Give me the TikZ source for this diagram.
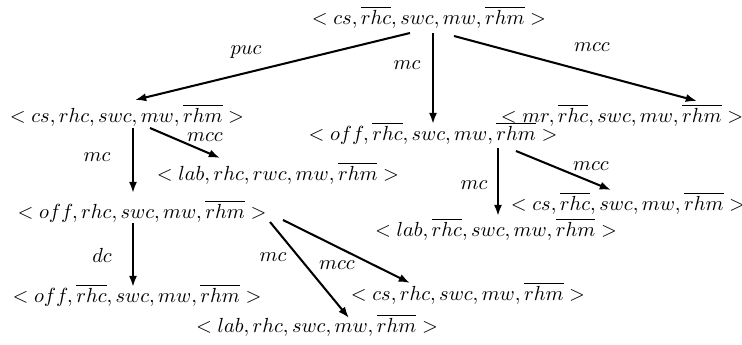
\documentclass[tikz,border=0pt]{standalone}
\usetikzlibrary{arrows.meta}
\begin{document}
\begin{tikzpicture}[x=0.49pt,y=-0.49pt,
  st/.style={inner sep=0pt,anchor=center},
  lbl/.style={inner sep=0pt,anchor=center},
  edge/.style={line width=1pt,-{Latex[length=5.5pt,width=4pt]}}]
\useasboundingbox (0,0) rectangle (742,345);
% states
\node[st] (n0) at (429,17) {$<cs,\overline{rhc},swc,mw,\overline{rhm}>$};
\node[st] (n1) at (127,115) {$<cs,rhc,swc,mw,\overline{rhm}>$};
\node[st] (n2) at (433,133) {$<off,\overline{rhc},swc,mw,\overline{rhm}>$};
\node[st] (n3) at (622,115) {$<mr,\overline{rhc},swc,mw,\overline{rhm}>$};
\node[st] (n4) at (278,173) {$<lab,rhc,rwc,mw,\overline{rhm}>$};
\node[st] (n5) at (142,211) {$<off,rhc,swc,mw,\overline{rhm}>$};
\node[st] (n6) at (628,203) {$<cs,\overline{rhc},swc,mw,\overline{rhm}>$};
\node[st] (n7) at (496,229) {$<lab,\overline{rhc},swc,mw,\overline{rhm}>$};
\node[st] (n8) at (137,295) {$<off,\overline{rhc},swc,mw,\overline{rhm}>$};
\node[st] (n9) at (468,293) {$<cs,rhc,swc,mw,\overline{rhm}>$};
\node[st] (n10) at (317,325) {$<lab,rhc,swc,mw,\overline{rhm}>$};
% connector end points
\coordinate (a0) at (410,33); \coordinate (b0) at (135,100);
\coordinate (a1) at (433,33); \coordinate (b1) at (433,124);
\coordinate (a2) at (454,36); \coordinate (b2) at (697,101);
\coordinate (a3) at (133,128); \coordinate (b3) at (133,193);
\coordinate (a4) at (150,128); \coordinate (b4) at (220,158);
\coordinate (a5) at (498,148); \coordinate (b5) at (498,216);
\coordinate (a6) at (516,151); \coordinate (b6) at (611,190);
\coordinate (a7) at (133,223); \coordinate (b7) at (133,287);
\coordinate (a8) at (270,222); \coordinate (b8) at (349,318);
\coordinate (a9) at (283,220); \coordinate (b9) at (410,283);
\draw[edge] (a0) -- (b0);
\draw[edge] (a1) -- (b1);
\draw[edge] (a2) -- (b2);
\draw[edge] (a3) -- (b3);
\draw[edge] (a4) -- (b4);
\draw[edge] (a5) -- (b5);
\draw[edge] (a6) -- (b6);
\draw[edge] (a7) -- (b7);
\draw[edge] (a8) -- (b8);
\draw[edge] (a9) -- (b9);
% labels
\node[lbl] (l0) at (246,52) {$puc$};
\node[lbl] (l1) at (407,65) {$mc$};
\node[lbl] (l2) at (592,47) {$mcc$};
\node[lbl] (l3) at (97,157) {$mc$};
\node[lbl] (l4) at (205,137) {$mcc$};
\node[lbl] (l5) at (474,185) {$mc$};
\node[lbl] (l6) at (591,166) {$mcc$};
\node[lbl] (l7) at (102,255) {$dc$};
\node[lbl] (l8) at (273,257) {$mc$};
\node[lbl] (l9) at (337,265) {$mcc$};
\end{tikzpicture}
\end{document}
